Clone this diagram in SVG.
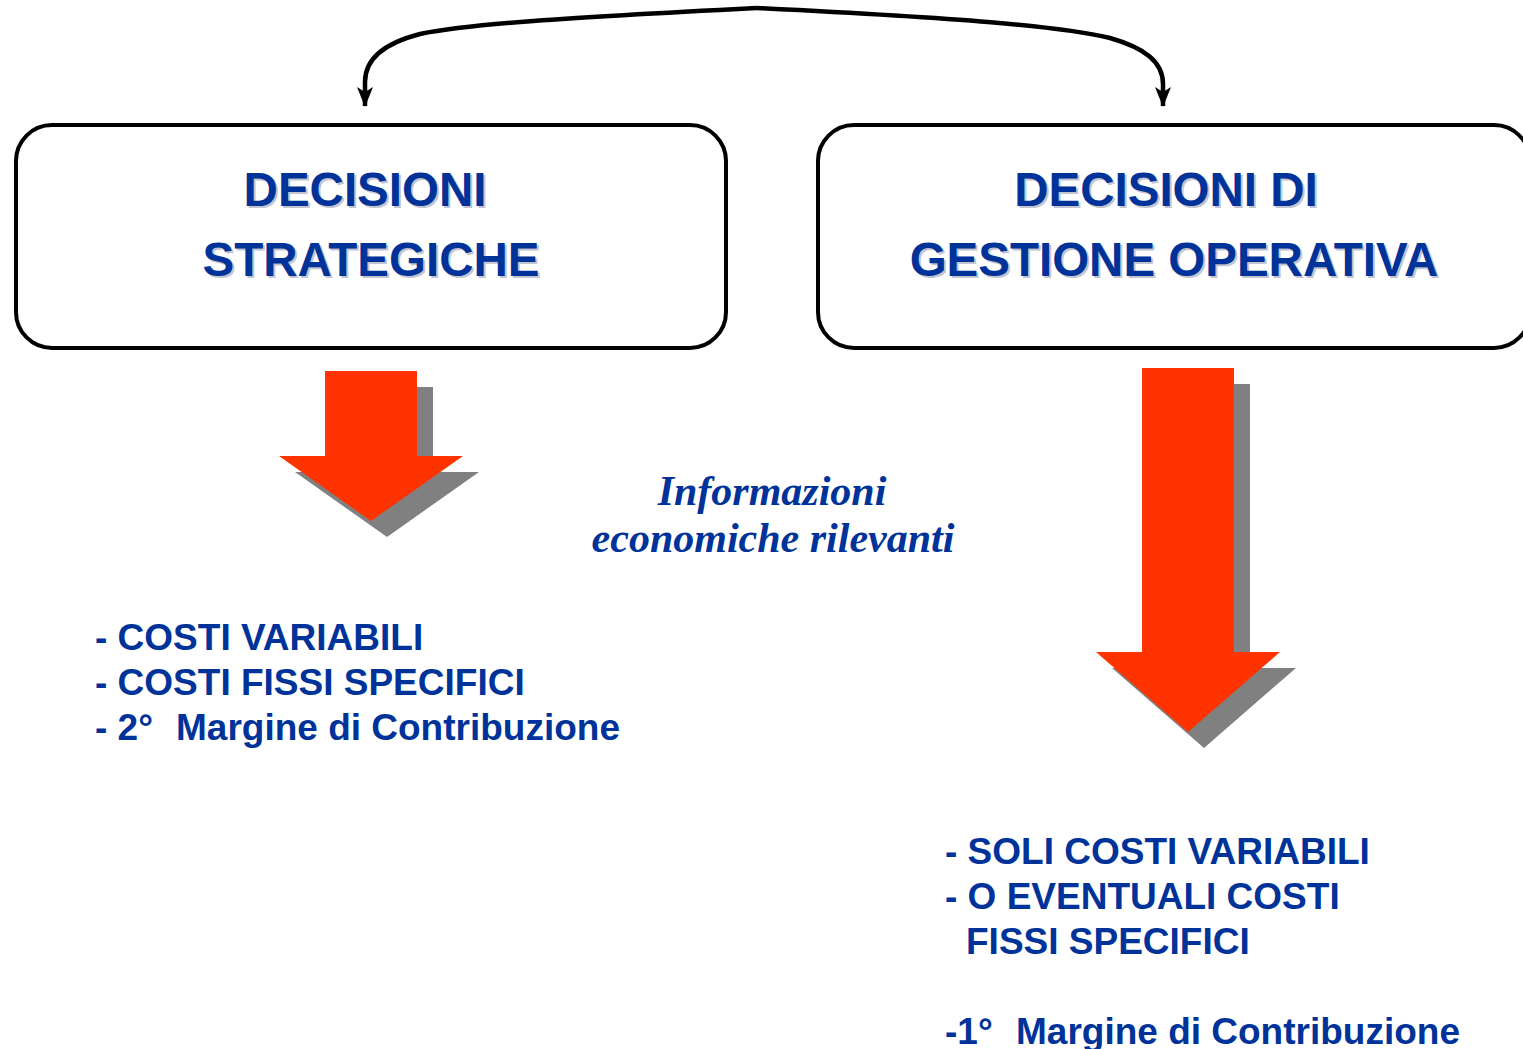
<svg xmlns="http://www.w3.org/2000/svg" width="1523" height="1049" viewBox="0 0 1523 1049">
<defs>
<style>
.box{fill:#fff;stroke:#000;stroke-width:4}
.title{font-family:"Liberation Sans",Arial,sans-serif;font-weight:bold;font-size:47.5px;fill:#003399;text-anchor:middle}
.tshadow{font-family:"Liberation Sans",Arial,sans-serif;font-weight:bold;font-size:47.5px;fill:#c4c4d0;text-anchor:middle}
.list{font-family:"Liberation Sans",Arial,sans-serif;font-weight:bold;font-size:37px;fill:#003399}
.info{font-family:"Liberation Serif","Times New Roman",serif;font-weight:bold;font-style:italic;font-size:42px;fill:#003399;text-anchor:middle}
.conn{fill:none;stroke:#000;stroke-width:4.5}
.red{fill:#FF3300}
.shadow{fill:#808080}
</style>
<marker id="ah" markerUnits="userSpaceOnUse" markerWidth="24" markerHeight="24" viewBox="0 0 24 24" refX="20" refY="12" orient="auto">
<path d="M1,4 L21,12 L1,20 L6,12 Z" fill="#000"/>
</marker>
</defs>

<g id="connectors">
<path class="conn" marker-end="url(#ah)" d="M757,8 C560,18 470,24 420,34 C385,43 365,58 365,82 L365,106"/>
<path class="conn" marker-end="url(#ah)" d="M757,8 C960,18 1060,26 1110,38 C1145,48 1163,62 1163,84 L1163,106"/>
</g>

<g id="node-strategiche">
<rect class="box" x="16" y="125" width="710" height="223" rx="36" ry="36"/>
<text class="tshadow" x="367" y="208">DECISIONI</text>
<text class="tshadow" x="373" y="278">STRATEGICHE</text>
<text class="title" x="365" y="206">DECISIONI</text>
<text class="title" x="371" y="276">STRATEGICHE</text>
</g>

<g id="node-operativa">
<rect class="box" x="818" y="125" width="712" height="223" rx="36" ry="36"/>
<text class="tshadow" x="1168" y="208">DECISIONI DI</text>
<text class="tshadow" x="1176" y="278">GESTIONE OPERATIVA</text>
<text class="title" x="1166" y="206">DECISIONI DI</text>
<text class="title" x="1174" y="276">GESTIONE OPERATIVA</text>
</g>

<g id="arrow-left">
<polygon class="shadow" points="341,387 433,387 433,472 479,472 387,537 295,472 341,472"/>
<polygon class="red" points="325,371 417,371 417,456 463,456 371,521 279,456 325,456"/>
</g>

<g id="arrow-right">
<polygon class="shadow" points="1158,384 1250,384 1250,668 1296,668 1204,748 1112,668 1158,668"/>
<polygon class="red" points="1142,368 1234,368 1234,652 1280,652 1188,732 1096,652 1142,652"/>
</g>

<g id="label-info">
<text class="info" x="772" y="505">Informazioni</text>
<text class="info" x="773" y="552">economiche rilevanti</text>
</g>

<g id="list-left">
<text class="list" x="95" y="650">- COSTI VARIABILI</text>
<text class="list" x="95" y="695">- COSTI FISSI SPECIFICI</text>
<text class="list" x="95" y="740">- 2°<tspan x="176">Margine di Contribuzione</tspan></text>
</g>

<g id="list-right">
<text class="list" x="945" y="864">- SOLI COSTI VARIABILI</text>
<text class="list" x="945" y="909">- O EVENTUALI COSTI</text>
<text class="list" x="966" y="954">FISSI SPECIFICI</text>
<text class="list" x="945" y="1044">-1°<tspan x="1016">Margine di Contribuzione</tspan></text>
</g>
</svg>
